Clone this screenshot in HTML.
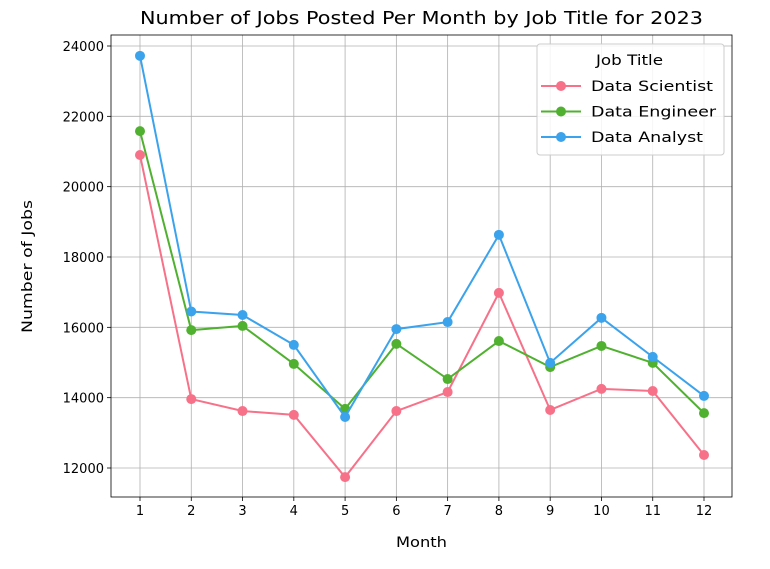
<!DOCTYPE html>
<html><head><meta charset="utf-8"><style>
body{margin:0;background:#fff;}
svg{font-family:"DejaVu Sans","Liberation Sans",sans-serif;}
</style></head><body>
<svg id="chart" width="770" height="564" viewBox="0 0 770 564">
<g id="grid"></g><g id="axes"></g><g id="series"></g><g id="legend"></g>
</svg>
<script>
const months=[1,2,3,4,5,6,7,8,9,10,11,12];
const dataScientist=[20900,13960,13620,13510,11740,13620,14160,16980,13650,14250,14190,12370];
const dataEngineer=[21580,15920,16040,14960,13680,15530,14530,15610,14870,15470,14990,13560];
const dataAnalyst=[23720,16450,16350,15500,13450,15950,16150,18630,14990,16270,15160,14050];
const yTicks=[12000,14000,16000,18000,20000,22000,24000];
const seriesNames=["Data Scientist","Data Engineer","Data Analyst"];
const colors=["#f77189","#50b131","#3ba3ec"];
const L=111,R=732,T=35,B=497;
const x=m=>140+(m-1)*(704-140)/11;
const y=v=>468-(v-12000)*(468-46)/12000;
const NS="http://www.w3.org/2000/svg";
function mk(tag,attrs,parent,text){const e=document.createElementNS(NS,tag);for(const k in attrs)e.setAttribute(k,attrs[k]);if(text!==undefined)e.textContent=text;parent.appendChild(e);return e;}
const grid=document.getElementById('grid'),axes=document.getElementById('axes'),ser=document.getElementById('series'),leg=document.getElementById('legend');
months.forEach(m=>{
 const g=mk('line',{x1:x(m),x2:x(m),y1:T,y2:B,stroke:'#b0b0b0','stroke-width':0.8},grid);
 
 mk('line',{x1:x(m),x2:x(m),y1:B,y2:B+4,stroke:'#000','stroke-width':0.8},axes);
 const t=mk('text',{x:x(m),y:B+18,'text-anchor':'middle','font-size':13},axes,String(m));
 
});
yTicks.forEach(v=>{
 const g=mk('line',{x1:L,x2:R,y1:y(v),y2:y(v),stroke:'#b0b0b0','stroke-width':0.8},grid);
 
 mk('line',{x1:L-4,x2:L,y1:y(v),y2:y(v),stroke:'#000','stroke-width':0.8},axes);
 const t=mk('text',{x:L-7,y:y(v)+5,'text-anchor':'end','font-size':13},axes,String(v));
 
});
const fr=mk('rect',{x:L,y:T,width:R-L,height:B-T,fill:'none',stroke:'#000','stroke-width':0.8},axes);

const tt=mk('text',{x:140,y:24,'font-size':18,textLength:563,lengthAdjust:'spacingAndGlyphs'},axes,'Number of Jobs Posted Per Month by Job Title for 2023');

const xt=mk('text',{x:396,y:547,'font-size':14.5,textLength:51,lengthAdjust:'spacingAndGlyphs'},axes,'Month');

const yt=mk('text',{x:0,y:0,'font-size':14.5,textLength:133,lengthAdjust:'spacingAndGlyphs',transform:'translate(32,333) rotate(-90)'},axes,'Number of Jobs');

[dataScientist,dataEngineer,dataAnalyst].forEach((d,i)=>{
 const pl=mk('polyline',{points:d.map((v,j)=>x(months[j])+','+y(v)).join(' '),fill:'none',stroke:colors[i],'stroke-width':2},ser);
 
 d.forEach((v,j)=>{
  const c=mk('circle',{cx:x(months[j]),cy:y(v),r:5,fill:colors[i]},ser);
  
 });
});
const lb=mk('rect',{x:537,y:44,width:187,height:111,rx:3,fill:'#fff','fill-opacity':0.85,stroke:'#ccc','stroke-width':1},leg);

const lt=mk('text',{x:596,y:65,'font-size':14.5,textLength:67,lengthAdjust:'spacingAndGlyphs'},leg,'Job Title');

const legendWidths=[122,125,112];
seriesNames.forEach((n,i)=>{
 const yy=86+i*25.5;
 mk('line',{x1:541,x2:581,y1:yy,y2:yy,stroke:colors[i],'stroke-width':2},leg);
 mk('circle',{cx:561,cy:yy,r:5,fill:colors[i]},leg);
 const t=mk('text',{x:591,y:yy+5,'font-size':14.5,textLength:legendWidths[i],lengthAdjust:'spacingAndGlyphs'},leg,n);
 
});
</script>
</body></html>
